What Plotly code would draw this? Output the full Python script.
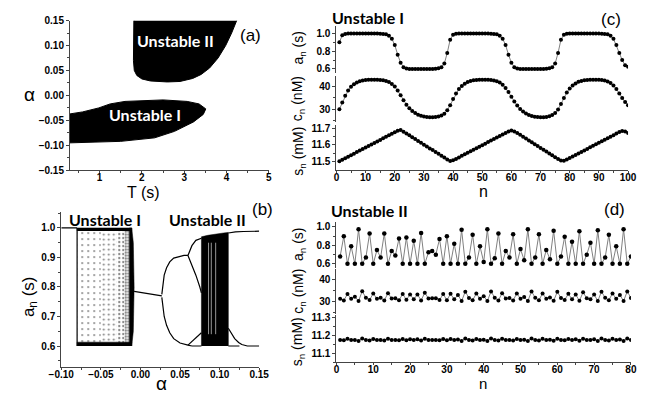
import plotly.graph_objects as go

W, H = 667, 398

# ---------------- data ----------------
# (a) stability regions in (T, alpha)
u1_T = [0.3, 0.6, 0.98, 1.25, 1.6, 2.0, 2.5, 3.07, 3.35, 3.51, 3.45, 3.22, 2.77, 2.3, 1.5, 0.3]
u1_alpha = [-0.037, -0.033, -0.025, -0.017, -0.012, -0.010, -0.009, -0.012, -0.017, -0.027,
            -0.038, -0.053, -0.072, -0.085, -0.092, -0.095]
u2_T = [1.81, 1.80, 1.80, 1.82, 1.88, 2.0, 2.2, 2.6, 2.9, 3.2, 3.4, 3.6, 3.8, 3.98, 4.12, 4.24]
u2_alpha = [0.15, 0.10, 0.07, 0.05, 0.04, 0.033, 0.029, 0.027, 0.028, 0.034, 0.042, 0.055,
            0.075, 0.10, 0.125, 0.15]

# (b) bifurcation diagram a_n vs alpha
fp1_alpha = [-0.10, -0.08]
fp1_a = [1.0, 1.0]
# chaotic cloud of Unstable I: alpha slabs (left, right) with rising point density
cloud_left = [-0.08, -0.05, -0.03, -0.02]
cloud_right = [-0.05, -0.03, -0.02, -0.014]
cloud_a = [0.6, 1.0]
edge_alpha = [-0.014, -0.014, -0.011, -0.009, -0.008, -0.009, -0.011]
edge_a = [0.6, 1.0, 1.0, 0.95, 0.8, 0.65, 0.6]
top_a = [0.99, 1.0]
bot_a = [0.6, 0.613]
fp2_alpha = [-0.008, 0.027]
fp2_a = [0.785, 0.77]
p2u_alpha = [0.027, 0.028, 0.030, 0.033, 0.037, 0.042, 0.050, 0.055, 0.060]
p2u_a = [0.775, 0.80, 0.84, 0.865, 0.885, 0.898, 0.905, 0.907, 0.907]
p2l_alpha = [0.027, 0.028, 0.030, 0.033, 0.037, 0.042, 0.050, 0.060, 0.065]
p2l_a = [0.765, 0.74, 0.70, 0.67, 0.645, 0.625, 0.61, 0.603, 0.60]
p4uu_alpha = [0.060, 0.065, 0.070, 0.077]
p4uu_a = [0.907, 0.94, 0.958, 0.965]
p4ul_alpha = [0.060, 0.065, 0.070, 0.075, 0.077]
p4ul_a = [0.907, 0.875, 0.84, 0.80, 0.78]
p4ll_alpha = [0.065, 0.070, 0.077]
p4ll_a = [0.60, 0.60, 0.60]
p4lu_alpha = [0.060, 0.065, 0.070, 0.077]
p4lu_a = [0.603, 0.615, 0.63, 0.645]
band_alpha = [0.077, 0.077, 0.085, 0.095, 0.105, 0.111, 0.111]
band_a = [0.6, 0.97, 0.975, 0.98, 0.983, 0.985, 0.6]
win_alpha = [0.086, 0.0895, 0.095]
ru_alpha = [0.111, 0.115, 0.12, 0.13, 0.14, 0.15]
ru_a = [0.983, 0.985, 0.987, 0.988, 0.989, 0.989]
rl_alpha = [0.111, 0.115, 0.119, 0.124, 0.128, 0.135, 0.15]
rl_a = [0.66, 0.64, 0.625, 0.612, 0.605, 0.60, 0.60]
rf_alpha = [0.111, 0.125]
rf_a = [0.60, 0.60]

# (c) Unstable I time series
n_c = list(range(1, 101))
a_c = [0.90, 0.98, 0.995, 1.0, 1.0, 1.0, 1.0, 1.0, 1.0, 1.0, 1.0, 1.0, 1.0, 1.0, 0.998, 0.995, 0.99,
       0.975, 0.94, 0.87, 0.76, 0.67, 0.62, 0.605, 0.60, 0.60, 0.60, 0.60, 0.60, 0.60, 0.60, 0.60,
       0.60, 0.602, 0.607, 0.62, 0.66, 0.78, 0.93, 0.985, 0.997, 1.0, 1.0, 1.0, 1.0, 1.0, 1.0, 1.0,
       1.0, 1.0, 1.0, 1.0, 0.998, 0.995, 0.99, 0.975, 0.94, 0.87, 0.76, 0.67, 0.62, 0.605, 0.60,
       0.60, 0.60, 0.60, 0.60, 0.60, 0.60, 0.60, 0.60, 0.602, 0.607, 0.62, 0.66, 0.78, 0.93, 0.985,
       0.997, 1.0, 1.0, 1.0, 1.0, 1.0, 1.0, 1.0, 1.0, 1.0, 1.0, 1.0, 0.998, 0.995, 0.99, 0.975,
       0.94, 0.87, 0.78, 0.70, 0.64, 0.625]
c_c = [30.0, 33.0, 36.0, 38.3, 39.9, 41.0, 41.8, 42.4, 42.7, 42.9, 43.0, 43.0, 43.0, 43.0, 42.9,
       42.8, 42.5, 42.0, 41.2, 40.0, 38.3, 36.2, 34.0, 32.0, 30.4, 29.2, 28.3, 27.6, 27.1, 26.8,
       26.6, 26.5, 26.5, 26.6, 26.8, 27.2, 28.0, 29.5, 31.8, 34.5, 37.0, 38.9, 40.3, 41.3, 42.0,
       42.5, 42.8, 42.9, 43.0, 43.0, 43.0, 43.0, 42.9, 42.7, 42.4, 41.8, 40.8, 39.4, 37.6, 35.5,
       33.4, 31.6, 30.1, 29.0, 28.1, 27.5, 27.0, 26.7, 26.6, 26.5, 26.5, 26.6, 26.9, 27.4, 28.3,
       29.9, 32.3, 35.0, 37.4, 39.2, 40.5, 41.4, 42.1, 42.5, 42.8, 42.9, 43.0, 43.0, 43.0, 43.0,
       42.9, 42.7, 42.3, 41.6, 40.5, 39.0, 37.0, 35.0, 33.2, 31.8]
s_c = [11.505, 11.513, 11.522, 11.531, 11.540, 11.549, 11.558, 11.567, 11.576, 11.585, 11.594,
       11.603, 11.612, 11.621, 11.630, 11.639, 11.648, 11.657, 11.666, 11.675, 11.684, 11.688,
       11.678, 11.668, 11.657, 11.646, 11.635, 11.624, 11.613, 11.602, 11.591, 11.580, 11.570,
       11.559, 11.548, 11.537, 11.526, 11.515, 11.506, 11.510, 11.518, 11.527, 11.536, 11.545,
       11.554, 11.563, 11.572, 11.581, 11.590, 11.599, 11.608, 11.617, 11.626, 11.635, 11.644,
       11.653, 11.662, 11.671, 11.680, 11.686, 11.680, 11.671, 11.660, 11.649, 11.638, 11.627,
       11.616, 11.605, 11.594, 11.583, 11.572, 11.561, 11.550, 11.539, 11.528, 11.517, 11.508,
       11.507, 11.514, 11.523, 11.532, 11.541, 11.550, 11.559, 11.568, 11.577, 11.586, 11.595,
       11.604, 11.613, 11.622, 11.631, 11.640, 11.649, 11.658, 11.667, 11.676, 11.683, 11.680,
       11.670]

# (d) Unstable II time series
n_d = list(range(1, 81))
a_d = [0.68, 0.90, 0.60, 0.79, 0.60, 0.975, 0.60, 0.67, 0.93, 0.60, 0.75, 0.67, 0.93, 0.60, 0.74,
       0.69, 0.876, 0.60, 0.885, 0.60, 0.85, 0.60, 0.935, 0.60, 0.725, 0.74, 0.70, 0.87, 0.60,
       0.90, 0.60, 0.817, 0.60, 0.97, 0.60, 0.67, 0.915, 0.60, 0.79, 0.62, 0.975, 0.60, 0.66,
       0.93, 0.60, 0.74, 0.67, 0.92, 0.60, 0.76, 0.64, 0.975, 0.60, 0.67, 0.92, 0.60, 0.75, 0.65,
       0.96, 0.60, 0.68, 0.895, 0.60, 0.84, 0.60, 0.955, 0.60, 0.70, 0.83, 0.60, 0.965, 0.60,
       0.67, 0.915, 0.60, 0.79, 0.60, 0.975, 0.60, 0.68]
c_d = [31.0, 30.3, 33.2, 31.0, 32.0, 30.0, 34.5, 31.5, 30.5, 33.5, 31.0, 31.5, 30.3, 33.6, 31.2,
       31.3, 30.4, 33.2, 30.6, 33.0, 30.8, 33.0, 30.3, 33.8, 31.2, 31.3, 31.3, 30.5, 33.2, 30.4,
       33.3, 30.8, 32.8, 30.0, 34.3, 31.4, 30.4, 33.4, 31.0, 32.2, 30.0, 34.4, 31.5, 30.3, 33.6,
       31.2, 31.4, 30.3, 33.5, 31.1, 31.8, 30.0, 34.4, 31.5, 30.4, 33.5, 31.1, 31.6, 30.1, 34.2,
       31.4, 30.5, 33.3, 30.8, 33.0, 30.1, 34.0, 31.3, 30.8, 33.0, 30.0, 34.3, 31.5, 30.4, 33.5,
       31.0, 32.8, 30.0, 34.4, 31.4]
s_d = [11.176, 11.174, 11.182, 11.175, 11.176, 11.170, 11.184, 11.176, 11.173, 11.181, 11.176,
       11.176, 11.173, 11.182, 11.176, 11.176, 11.174, 11.181, 11.174, 11.180, 11.175, 11.180,
       11.173, 11.182, 11.176, 11.176, 11.176, 11.174, 11.181, 11.174, 11.181, 11.175, 11.179,
       11.170, 11.184, 11.176, 11.173, 11.181, 11.175, 11.177, 11.170, 11.184, 11.176, 11.173,
       11.182, 11.176, 11.176, 11.173, 11.181, 11.175, 11.177, 11.170, 11.184, 11.176, 11.173,
       11.182, 11.175, 11.177, 11.171, 11.183, 11.176, 11.174, 11.181, 11.175, 11.180, 11.171,
       11.183, 11.176, 11.175, 11.180, 11.170, 11.184, 11.176, 11.173, 11.182, 11.175, 11.179,
       11.170, 11.184, 11.176]

# ---------------- helpers ----------------
def fx(p):
    return p / W


def fy(p):
    return 1 - p / H


AX = '#444444'
TICKF = dict(family='Liberation Sans', size=10, color='black', weight='bold')
fig = go.Figure()


def add(x, y, xa, ya, **kw):
    fig.add_trace(go.Scatter(x=x, y=y, xaxis=xa, yaxis=ya, hoverinfo='skip', **kw))


def rect(x0, x1, y0, y1):
    return [x0, x0, x1, x1], [y0, y1, y1, y0]


# (a)
add(u1_T, u1_alpha, 'x', 'y', mode='lines', fill='toself', fillcolor='black',
    line=dict(color='black', width=1))
add(u2_T, u2_alpha, 'x', 'y', mode='lines', fill='toself', fillcolor='black',
    line=dict(color='black', width=1))

# (b)
blk = dict(color='black', width=1.2)
pat_size = [6, 5, 4, 3]
pat_sol = [0.08, 0.13, 0.25, 0.5]
for i in range(len(cloud_left)):
    xs, ys = rect(cloud_left[i], cloud_right[i], cloud_a[0], cloud_a[1])
    add(xs, ys, 'x2', 'y2', mode='none', fill='toself',
        fillpattern=dict(shape='.', fgcolor='black', bgcolor='white',
                         size=pat_size[i], solidity=pat_sol[i]))
add(edge_alpha, edge_a, 'x2', 'y2', mode='lines', fill='toself', fillcolor='black',
    line=dict(color='black', width=0.5))
for ya in (top_a, bot_a):
    xs, ys = rect(cloud_left[0], edge_alpha[2], ya[0], ya[1])
    add(xs, ys, 'x2', 'y2', mode='lines', fill='toself', fillcolor='black',
        line=dict(color='black', width=0.5))
add([cloud_left[0], cloud_left[0]], cloud_a, 'x2', 'y2', mode='lines',
    line=dict(color='black', width=1.2))
add(band_alpha, band_a, 'x2', 'y2', mode='lines', fill='toself', fillcolor='black',
    line=dict(color='black', width=0.5))
for wa in win_alpha:
    add([wa, wa], [0.64, 0.95], 'x2', 'y2', mode='lines', line=dict(color='#bbbbbb', width=0.8))
for xs, ys in [(fp1_alpha, fp1_a), (fp2_alpha, fp2_a), (p2u_alpha, p2u_a), (p2l_alpha, p2l_a),
               (p4uu_alpha, p4uu_a), (p4ul_alpha, p4ul_a), (p4ll_alpha, p4ll_a),
               (p4lu_alpha, p4lu_a), (ru_alpha, ru_a), (rl_alpha, rl_a), (rf_alpha, rf_a)]:
    add(xs, ys, 'x2', 'y2', mode='lines', line=blk)

# (c)
ts_line = dict(color='#808080', width=1)
ts_mk = dict(color='black', size=4)
add(n_c, a_c, 'x3', 'y3', mode='lines+markers', line=ts_line, marker=ts_mk)
add(n_c, c_c, 'x3', 'y4', mode='lines+markers', line=ts_line, marker=ts_mk)
add(n_c, s_c, 'x3', 'y5', mode='lines+markers', line=ts_line, marker=ts_mk)
# (d)
add(n_d, a_d, 'x4', 'y6', mode='lines+markers', line=ts_line, marker=dict(color='black', size=4.5))
add(n_d, c_d, 'x4', 'y7', mode='lines+markers', line=ts_line, marker=ts_mk)
add(n_d, s_d, 'x4', 'y8', mode='lines+markers', line=ts_line, marker=ts_mk)


def axis(domain, rng, dtick, minor, fmt=None, anchor=None, ticklen=3, standoff=0):
    d = dict(domain=domain, range=rng, dtick=dtick, tick0=0, showgrid=False, zeroline=False,
             showline=True, linecolor=AX, linewidth=1, ticks='outside', ticklen=ticklen,
             tickcolor=AX, tickwidth=1, tickfont=TICKF, anchor=anchor,
             ticklabelstandoff=standoff)
    if minor:
        d['minor'] = dict(dtick=minor, ticks='outside', ticklen=2, tickcolor=AX, showgrid=False)
    if fmt:
        d['tickformat'] = fmt
    return d


layout = dict(
    width=W, height=H, margin=dict(l=0, r=0, t=0, b=0), showlegend=False,
    plot_bgcolor='white', paper_bgcolor='white',
    xaxis=axis([fx(59), fx(265)], [0.3, 5], 1, 0.5, anchor='y', ticklen=2, standoff=-4),
    yaxis=axis([fy(170), fy(16)], [-0.15, 0.15], 0.05, 0.025, fmt='.2f', anchor='x'),
    xaxis2=axis([fx(50), fx(255)], [-0.1, 0.15], 0.05, 0.025, fmt='.2f', anchor='y2', ticklen=2,
                standoff=-4),
    yaxis2=axis([fy(372), fy(213)], [0.5298, 1.0537], 0.1, 0.05, fmt='.1f', anchor='x2'),
    xaxis3=axis([fx(335), fx(637)], [0, 100], 10, 5, anchor='y5', ticklen=2, standoff=-4),
    yaxis3=axis([fy(70), fy(22)], [0.553, 1.08], 0.2, 0.1, fmt='.1f', anchor='x3'),
    yaxis4=axis([fy(120), fy(73)], [24.5, 44.7], 10, 5, anchor='x3'),
    yaxis5=axis([fy(170), fy(123)], [11.451, 11.72], 0.1, 0.05, fmt='.1f', anchor='x3'),
    xaxis4=axis([fx(335), fx(640)], [0, 80], 10, 5, anchor='y8', ticklen=2, standoff=-4),
    yaxis6=axis([fy(270), fy(223)], [0.56, 1.056], 0.2, 0.1, fmt='.1f', anchor='x4'),
    yaxis7=axis([fy(318), fy(272)], [24.0, 44.4], 10, 5, anchor='x4'),
    yaxis8=axis([fy(367.5), fy(319)], [11.05, 11.315], 0.1, 0.05, fmt='.1f', anchor='x4'),
)
fig.update_layout(**layout)

REG = 'Liberation Sans'
BOLD = 'Lato'


def txt(x, y, s, size, color='black', bold=False, angle=0, yanchor='middle'):
    fig.add_annotation(x=fx(x), y=fy(y), xref='paper', yref='paper', text=s, showarrow=False,
                       textangle=angle, xanchor='center', yanchor=yanchor,
                       font=dict(family=BOLD if bold else REG, size=size,
                                 color=color, weight='bold' if bold else 'normal'))


# panel (a)
txt(168, 36, 'Unstable II', 16, color='white', bold=True)
txt(137, 113, 'Unstable I', 16, color='white', bold=True)
txt(246, 31, '(a)', 17)
txt(17, 92, 'α', 19)
txt(135, 193, 'T (s)', 16)
# panel (b)
txt(95, 221, 'Unstable I', 16, bold=True)
txt(201, 221, 'Unstable II', 16, bold=True)
txt(258, 210, '(b)', 17)
txt(17, 300, 'a<sub>n</sub> (s)', 17, angle=-90)
txt(154, 389, 'α', 19)
# panel (c)
txt(368, 13, 'Unstable I', 16, bold=True)
txt(619, 15, '(c)', 17)
txt(296, 44, 'a<sub>n</sub> (s)', 14, angle=-90)
txt(296, 96, 'c<sub>n</sub> (nM)', 14, angle=-90)
txt(296, 150, 's<sub>n</sub> (mM)', 14, angle=-90)
txt(487, 192, 'n', 16)
# panel (d)
txt(369, 211, 'Unstable II', 16, bold=True)
txt(623, 210, '(d)', 17)
txt(296, 246, 'a<sub>n</sub> (s)', 14, angle=-90)
txt(296, 294, 'c<sub>n</sub> (nM)', 14, angle=-90)
txt(296, 346, 's<sub>n</sub> (mM)', 14, angle=-90)
txt(487, 389, 'n', 15)

fig.write_html('out.html', config={'displayModeBar': False},
               post_script="document.body.style.margin='0';document.body.style.overflow='hidden';")
